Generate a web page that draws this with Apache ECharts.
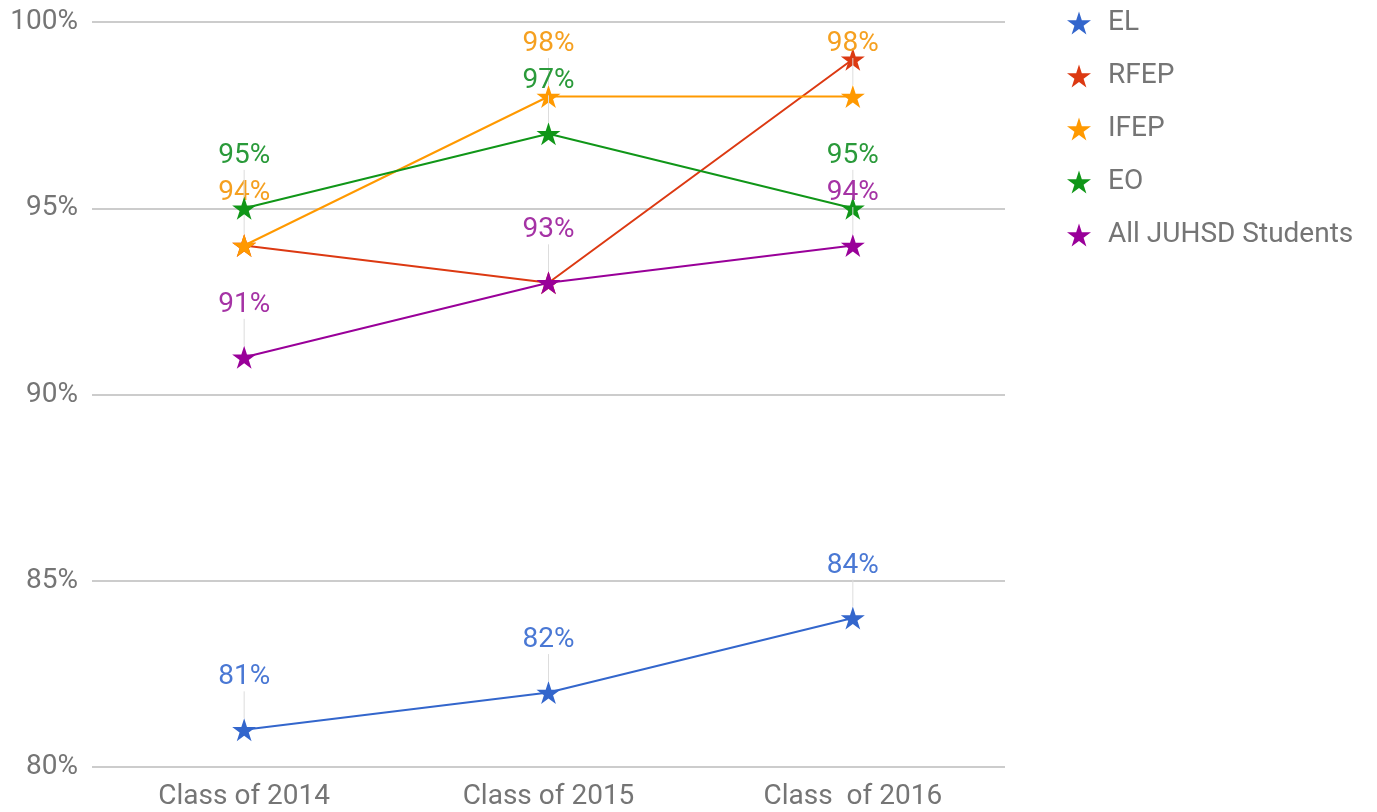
<!DOCTYPE html>
<html>
<head>
<meta charset="utf-8">
<script src="https://cdn.jsdelivr.net/npm/echarts@6/dist/echarts.min.js"></script>
<style>
html,body{margin:0;padding:0;background:#fff;}
#main{width:1377px;height:812px;}
</style>
</head>
<body>
<div id="main"></div>
<script>
const categories = ['Class of 2014', 'Class of 2015', 'Class  of 2016'];
const seriesNames = ['EL', 'RFEP', 'IFEP', 'EO', 'All JUHSD Students'];
const EL = [81, 82, 84];
const RFEP = [94, 93, 99];
const IFEP = [94, 98, 98];
const EO = [95, 97, 95];
const ALL = [91, 93, 94];
const yTicks = [80, 85, 90, 95, 100];

const colors = ['#3366cc', '#dc3912', '#ff9900', '#109618', '#990099'];
const labelColors = ['#4a78d4', '#dc3912', '#f5a020', '#2a9a3a', '#a533a5'];
const showLabels = [true, false, true, true, true];
const star = 'path://M50,0 L61.2,34.5 L97.6,34.5 L68.2,55.9 L79.4,90.5 L50,69.1 L20.6,90.5 L31.8,55.9 L2.4,34.5 L38.8,34.5 Z';
const font = 'Roboto, "Noto Sans", sans-serif';
const textGray = '#757575';

const values = [EL, RFEP, IFEP, EO, ALL];
const series = values.map((vals, i) => ({
  name: seriesNames[i],
  type: 'line',
  data: vals,
  symbol: star,
  symbolSize: 24,
  symbolKeepAspect: true,
  showAllSymbol: true,
  lineStyle: { width: 2, color: colors[i] },
  itemStyle: { color: colors[i] },
  z: 2 + i,
  label: {
    show: showLabels[i],
    position: 'top',
    distance: 26,
    formatter: p => Math.floor(p.value) + '%',
    color: labelColors[i],
    fontSize: 28,
    fontFamily: font
  },
  labelLine: {
    show: showLabels[i],
    lineStyle: { color: '#dddddd', width: 1 }
  },
  labelLayout: { dy: -1 }
}));

const chart = echarts.init(document.getElementById('main'), null, { renderer: 'canvas' });
chart.setOption({
  animation: false,
  backgroundColor: '#ffffff',
  color: colors,
  grid: { left: 92, right: 372, top: 22, bottom: 45, containLabel: false },
  legend: {
    orient: 'vertical',
    left: 1062,
    top: 4,
    itemWidth: 24,
    itemHeight: 24,
    itemGap: 25,
    icon: star,
    textStyle: { fontSize: 28, lineHeight: 28, color: textGray, fontFamily: font, padding: [0, 0, 0, 12] },
    data: seriesNames
  },
  xAxis: {
    type: 'category',
    data: categories,
    axisTick: { show: false },
    axisLine: { show: false },
    axisLabel: { fontSize: 28, color: textGray, fontFamily: font, margin: 16 }
  },
  yAxis: {
    type: 'value',
    min: yTicks[0],
    max: yTicks[yTicks.length - 1],
    interval: yTicks[1] - yTicks[0],
    axisLine: { show: false },
    axisTick: { show: false },
    splitLine: { lineStyle: { color: '#cccccc', width: 2 } },
    axisLabel: { fontSize: 28, color: textGray, fontFamily: font, margin: 14, formatter: '{value}%' }
  },
  series: series
});
</script>
</body>
</html>
